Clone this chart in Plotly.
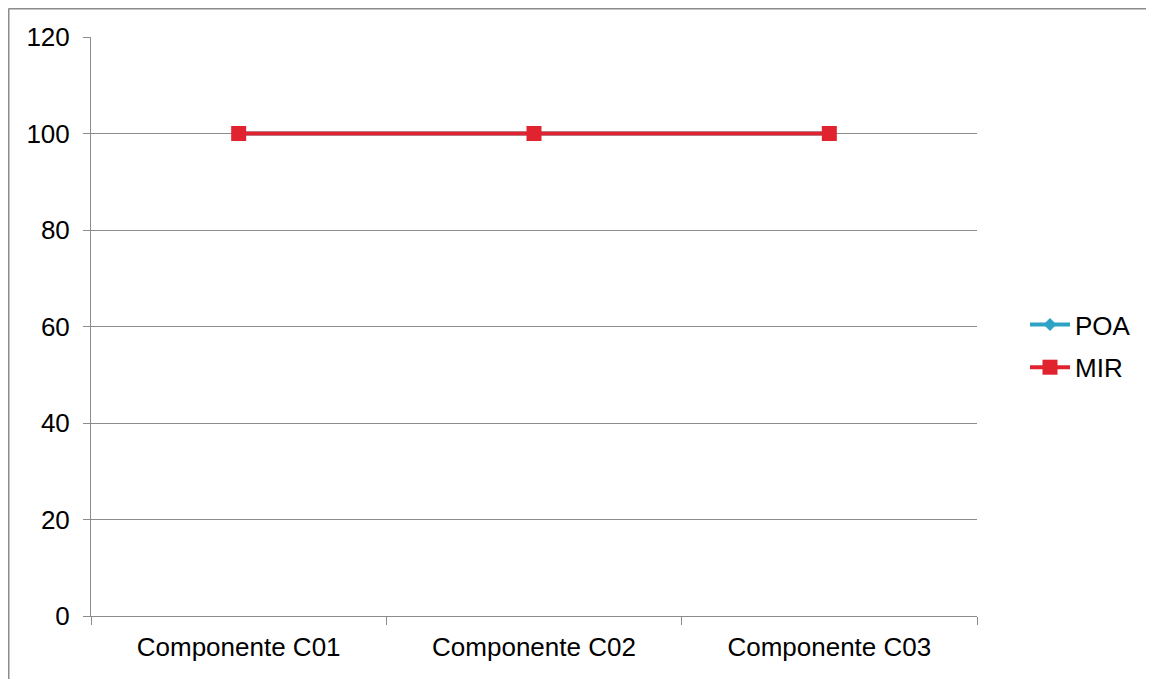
import plotly.graph_objects as go

categories = ["Componente C01", "Componente C02", "Componente C03"]
poa_values = [100, 100, 100]
mir_values = [100, 100, 100]
y_ticks = [0, 20, 40, 60, 80, 100, 120]

# page body has an 8px margin; the figure is sized so it fits the window
W, H = 1146, 671
L, R, T, B = 83, 177, 29, 63
pw, ph = W - L - R, H - T - B

fig = go.Figure()
fig.add_trace(go.Scatter(
    x=categories, y=poa_values, name="POA", mode="lines+markers", legendgroup="poa",
    line=dict(color="#2FA3C6", width=4),
    marker=dict(symbol="diamond", size=10, color="#2FA3C6"),
))
fig.add_trace(go.Scatter(
    x=categories, y=mir_values, name="MIR", mode="lines+markers", legendgroup="mir",
    line=dict(color="#E0232E", width=4),
    marker=dict(symbol="square", size=15, color="#E0232E"),
))

font = dict(family="Liberation Sans, Arial, sans-serif", size=26, color="#000000")

bx = (0.5 - L) / pw
by = (H - B - 0.5) / ph
fig.add_shape(type="line", xref="paper", yref="paper", x0=bx, x1=bx, y0=-0.3, y1=by,
              line=dict(color="#8C8C8C", width=2))
fig.add_shape(type="line", xref="paper", yref="paper", x0=bx, x1=1.4, y0=by, y1=by,
              line=dict(color="#8C8C8C", width=2))

fig.update_layout(
    width=W, height=H,
    margin=dict(l=L, r=R, t=T, b=B, autoexpand=False),
    paper_bgcolor="white", plot_bgcolor="white",
    font=font,
    showlegend=True,
    legend=dict(x=(1017 - L) / pw, xanchor="left", y=(H - B - 338) / ph, yanchor="middle",
                font=font, tracegroupgap=6, itemwidth=40, bgcolor="rgba(0,0,0,0)"),
    xaxis=dict(
        type="category", range=[-0.5, 2.5], tickson="boundaries",
        ticks="outside", ticklen=8, tickcolor="#8C8C8C", tickwidth=1,
        showline=True, linecolor="#8C8C8C", linewidth=1,
        showgrid=False, zeroline=False, tickfont=font, ticklabelstandoff=8,
    ),
    yaxis=dict(
        range=[0, 120], tickvals=y_ticks, ticks="outside", ticklen=7,
        tickcolor="#8C8C8C", tickwidth=1,
        showline=True, linecolor="#8C8C8C", linewidth=1,
        showgrid=True, gridcolor="#8C8C8C", gridwidth=1, zeroline=False,
        tickfont=font, ticklabelstandoff=8,
    ),
)

fig.write_html("out.html")
